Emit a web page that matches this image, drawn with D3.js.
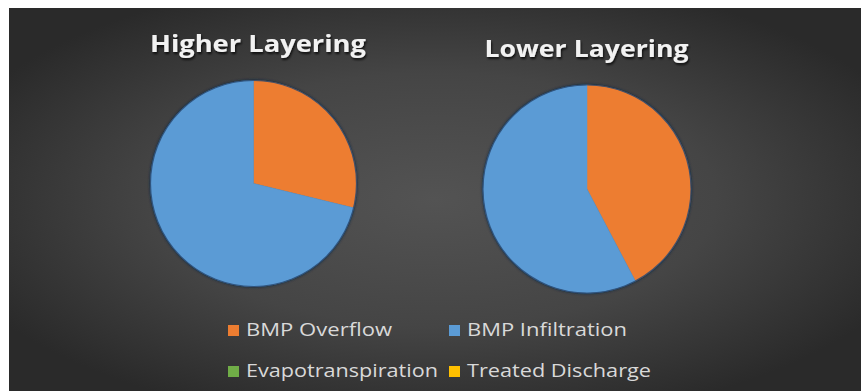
<!DOCTYPE html>
<html>
<head>
<meta charset="utf-8">
<script src="https://cdn.jsdelivr.net/npm/d3@7"></script>
<style>
  html, body { margin: 0; padding: 0; background: #ffffff; }
  svg { display: block; }
</style>
</head>
<body>
<svg id="chart" width="861" height="391"></svg>
<script>
// Water balance shares for the two layering scenarios (percent)
const categories = ["BMP Overflow", "BMP Infiltration", "Evapotranspiration", "Treated Discharge"];
const colors = ["#ED7D31", "#5B9BD5", "#70AD47", "#FFC000"];
const chartTitles = ["Higher Layering", "Lower Layering"];
const higherValues = [28.8, 71.2, 0, 0];
const lowerValues = [42.3, 57.7, 0, 0];

const svg = d3.select("#chart");
const W = 861, H = 391;

// Dark panel with a soft radial gradient
const defs = svg.append("defs");
const grad = defs.append("radialGradient")
  .attr("id", "bg").attr("cx", "50%").attr("cy", "50%").attr("r", "60%")
  .attr("gradientUnits", "objectBoundingBox");
grad.append("stop").attr("offset", "0%").attr("stop-color", "#535353");
grad.append("stop").attr("offset", "55%").attr("stop-color", "#454545");
grad.append("stop").attr("offset", "100%").attr("stop-color", "#2a2a2a");

const shadow = defs.append("filter").attr("id", "txtShadow")
  .attr("x", "-10%").attr("y", "-30%").attr("width", "120%").attr("height", "160%");
shadow.append("feDropShadow").attr("dx", 1).attr("dy", 2).attr("stdDeviation", 1.2)
  .attr("flood-color", "#000").attr("flood-opacity", 0.75);

const pieShadow = defs.append("filter").attr("id", "pieShadow")
  .attr("x", "-10%").attr("y", "-10%").attr("width", "120%").attr("height", "120%");
pieShadow.append("feDropShadow").attr("dx", 0).attr("dy", 0).attr("stdDeviation", 1.5)
  .attr("flood-color", "#0d2440").attr("flood-opacity", 0.9);

svg.append("rect").attr("x", 9).attr("y", 8).attr("width", W - 9).attr("height", H - 8)
  .attr("fill", "url(#bg)");

const colorScale = d3.scaleOrdinal().domain(categories).range(colors);
const pie = d3.pie().sort(null).value(d => d.value);

const charts = [
  { title: chartTitles[0], values: higherValues, cx: 253.5, cy: 183.5, r: 103, tx: 258, ty: 52, tw: 216 },
  { title: chartTitles[1], values: lowerValues, cx: 587, cy: 189, r: 104, tx: 586.5, ty: 57, tw: 204 }
];

charts.forEach(c => {
  const data = categories.map((k, i) => ({ key: k, value: c.values[i] }));
  const arc = d3.arc().innerRadius(0).outerRadius(c.r);
  const g = svg.append("g").attr("transform", `translate(${c.cx},${c.cy})`);
  g.append("circle").attr("r", c.r + 0.5).attr("fill", "#1f3a5c").attr("filter", "url(#pieShadow)");
  g.selectAll("path")
    .data(pie(data).filter(d => d.data.value > 0))
    .join("path")
    .attr("d", arc)
    .attr("fill", d => colorScale(d.data.key))
    .attr("stroke", d => colorScale(d.data.key))
    .attr("stroke-width", 0.5);
  g.append("circle").attr("r", c.r).attr("fill", "none")
    .attr("stroke", "#2a4a70").attr("stroke-width", 1.2).attr("stroke-opacity", 0.8);

  svg.append("text")
    .attr("x", c.tx).attr("y", c.ty)
    .attr("text-anchor", "middle")
    .attr("font-family", "'Open Sans', sans-serif")
    .attr("font-weight", 700)
    .attr("font-size", 23)
    .attr("textLength", c.tw)
    .attr("lengthAdjust", "spacingAndGlyphs")
    .attr("fill", "#f2f2f2")
    .attr("filter", "url(#txtShadow)")
    .text(c.title);
});

// Legend, two rows of two entries
const legendItems = [
  { key: categories[0], x: 228, y: 336, tw: 146 },
  { key: categories[1], x: 449, y: 336, tw: 160 },
  { key: categories[2], x: 228, y: 377, tw: 192 },
  { key: categories[3], x: 449, y: 377, tw: 184 }
];
const legend = svg.append("g");
legendItems.forEach(it => {
  legend.append("rect")
    .attr("x", it.x).attr("y", it.y - 11).attr("width", 11).attr("height", 11)
    .attr("fill", colorScale(it.key));
  legend.append("text")
    .attr("x", it.x + 18).attr("y", it.y)
    .attr("font-family", "'Open Sans', sans-serif")
    .attr("font-size", 19)
    .attr("textLength", it.tw)
    .attr("lengthAdjust", "spacingAndGlyphs")
    .attr("fill", "#d9d9d9")
    .text(it.key);
});
</script>
</body>
</html>
